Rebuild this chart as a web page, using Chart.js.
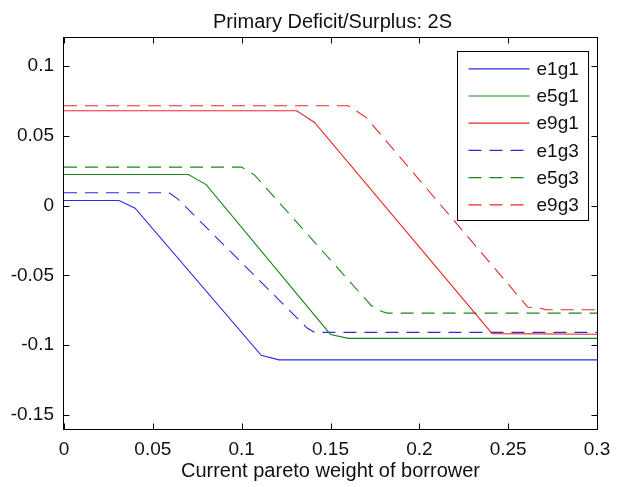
<!DOCTYPE html>
<html>
<head>
<meta charset="utf-8">
<title>Primary Deficit/Surplus: 2S</title>
<script src="https://cdn.jsdelivr.net/npm/chart.js@4/dist/chart.umd.min.js"></script>
<style>
  html, body { margin: 0; padding: 0; background: #fff; }
  #chart { display: block; }
</style>
</head>
<body>
<canvas id="chart" width="625" height="487"></canvas>
<script>
// breakpoints of each curve: [pareto weight, deficit/surplus]
const e1g1 = [[0, 0.0036], [0.031, 0.0036], [0.040, -0.0019], [0.111, -0.1072], [0.121, -0.1105], [0.3, -0.1105]];
const e5g1 = [[0, 0.0222], [0.070, 0.0222], [0.080, 0.0150], [0.150, -0.0923], [0.160, -0.0951], [0.3, -0.0951]];
const e9g1 = [[0, 0.0679], [0.131, 0.0679], [0.141, 0.0595], [0.241, -0.0917], [0.3, -0.0922]];
const e1g3 = [[0, 0.0092], [0.059, 0.0092], [0.064, 0.0048], [0.137, -0.0879], [0.141, -0.0908], [0.3, -0.0908]];
const e5g3 = [[0, 0.0275], [0.100, 0.0275], [0.107, 0.0222], [0.173, -0.0717], [0.179, -0.0759], [0.182, -0.0770], [0.3, -0.0770]];
const e9g3 = [[0, 0.0715], [0.160, 0.0715], [0.170, 0.0632], [0.261, -0.0727], [0.2695, -0.0739], [0.271, -0.0746], [0.3, -0.0746]];

const seriesNames = ["e1g1", "e5g1", "e9g1", "e1g3", "e5g3", "e9g3"];
const seriesData = [e1g1, e5g1, e9g1, e1g3, e5g3, e9g3];

const xTicks = [0, 0.05, 0.1, 0.15, 0.2, 0.25, 0.3];
const xTickLabels = ["0", "0.05", "0.1", "0.15", "0.2", "0.25", "0.3"];
const yTicks = [-0.15, -0.1, -0.05, 0, 0.05, 0.1];
const yTickLabels = ["-0.15", "-0.1", "-0.05", "0", "0.05", "0.1"];

const titleText = "Primary Deficit/Surplus: 2S";
const xAxisText = "Current pareto weight of borrower";

// matlab-ish line styles
const colors = ["#2a2ae6", "#1a861a", "#ea2828", "#2a2ae6", "#1a861a", "#ea2828"];
const dashes = [[], [], [], [13, 8], [13, 8], [13, 8]];

const FONT = "'Liberation Sans', Arial, Helvetica, sans-serif";
const TEXT = "#111";

Chart.defaults.font.family = FONT;
Chart.defaults.font.size = 19;
Chart.defaults.color = TEXT;

// title over the plot box, box around the axes, inward ticks, legend in the corner
const framePlugin = {
    id: "frame",
    afterDraw(chart) {
        const ctx = chart.ctx;
        const a = chart.chartArea;
        const xs = chart.scales.x;
        const ys = chart.scales.y;
        const L = Math.round(a.left) - 0.5, R = Math.round(a.right) + 0.5;
        const T = Math.round(a.top) - 0.5, B = Math.round(a.bottom) + 0.5;
        const tick = 6;

        ctx.save();
        ctx.fillStyle = TEXT;
        ctx.font = "20px " + FONT;
        ctx.textAlign = "center";
        ctx.textBaseline = "alphabetic";
        ctx.fillText(titleText, (a.left + a.right) / 2 + 2, 28);

        ctx.strokeStyle = "#000";
        ctx.lineWidth = 1;
        ctx.strokeRect(L, T, R - L, B - T);

        ctx.beginPath();
        xTicks.forEach(v => {
            const px = Math.round(xs.getPixelForValue(v)) + 0.5;
            ctx.moveTo(px, B); ctx.lineTo(px, B - tick);
            ctx.moveTo(px, T); ctx.lineTo(px, T + tick);
        });
        yTicks.forEach(v => {
            const py = Math.round(ys.getPixelForValue(v)) + 0.5;
            ctx.moveTo(L, py); ctx.lineTo(L + tick, py);
            ctx.moveTo(R, py); ctx.lineTo(R - tick, py);
        });
        ctx.stroke();

        // legend
        const bw = 131, bh = 169;
        const bx = Math.round(a.right) - 140 + 0.5;
        const by = Math.round(a.top) + 13 + 0.5;
        ctx.fillStyle = "#fff";
        ctx.fillRect(bx, by, bw, bh);
        ctx.strokeRect(bx, by, bw, bh);

        ctx.font = "19px " + FONT;
        ctx.textAlign = "left";
        ctx.textBaseline = "middle";
        seriesNames.forEach((name, i) => {
            const y = by + 17.3 + i * 27.2;
            ctx.strokeStyle = colors[i];
            ctx.lineWidth = 1.2;
            ctx.setLineDash(dashes[i]);
            ctx.beginPath();
            ctx.moveTo(bx + 11, y);
            ctx.lineTo(bx + 72, y);
            ctx.stroke();
            ctx.setLineDash([]);
            ctx.fillStyle = TEXT;
            ctx.fillText(name, bx + 79, y + 1);
        });
        ctx.restore();
    }
};

new Chart(document.getElementById("chart"), {
    type: "line",
    data: {
        datasets: seriesData.map((pts, i) => ({
            label: seriesNames[i],
            data: pts.map(p => ({ x: p[0], y: p[1] })),
            borderColor: colors[i],
            borderDash: dashes[i],
            borderWidth: 1.1,
            pointRadius: 0,
            tension: 0,
            fill: false
        }))
    },
    options: {
        responsive: false,
        animation: false,
        layout: { padding: { left: 0, right: 28, top: 38, bottom: 0 } },
        plugins: {
            legend: { display: false },
            tooltip: { enabled: false },
            title: { display: false }
        },
        scales: {
            x: {
                type: "linear",
                min: 0,
                max: 0.3,
                afterBuildTicks: s => { s.ticks = xTicks.map(v => ({ value: v })); },
                afterFit: s => { s.height = 58; },
                grid: { display: false, drawTicks: false },
                border: { display: false },
                ticks: {
                    padding: 9,
                    maxRotation: 0,
                    autoSkip: false,
                    callback: (v, i) => xTickLabels[i]
                },
                title: {
                    display: true,
                    text: xAxisText,
                    font: { size: 20 },
                    color: TEXT,
                    padding: { top: 0, bottom: 4 }
                }
            },
            y: {
                type: "linear",
                min: -0.16,
                max: 0.12,
                afterBuildTicks: s => { s.ticks = yTicks.map(v => ({ value: v })); },
                afterFit: s => { s.width = 64; },
                grid: { display: false, drawTicks: false },
                border: { display: false },
                ticks: {
                    padding: 10,
                    autoSkip: false,
                    callback: (v, i) => yTickLabels[i]
                }
            }
        }
    },
    plugins: [framePlugin]
});
</script>
</body>
</html>
